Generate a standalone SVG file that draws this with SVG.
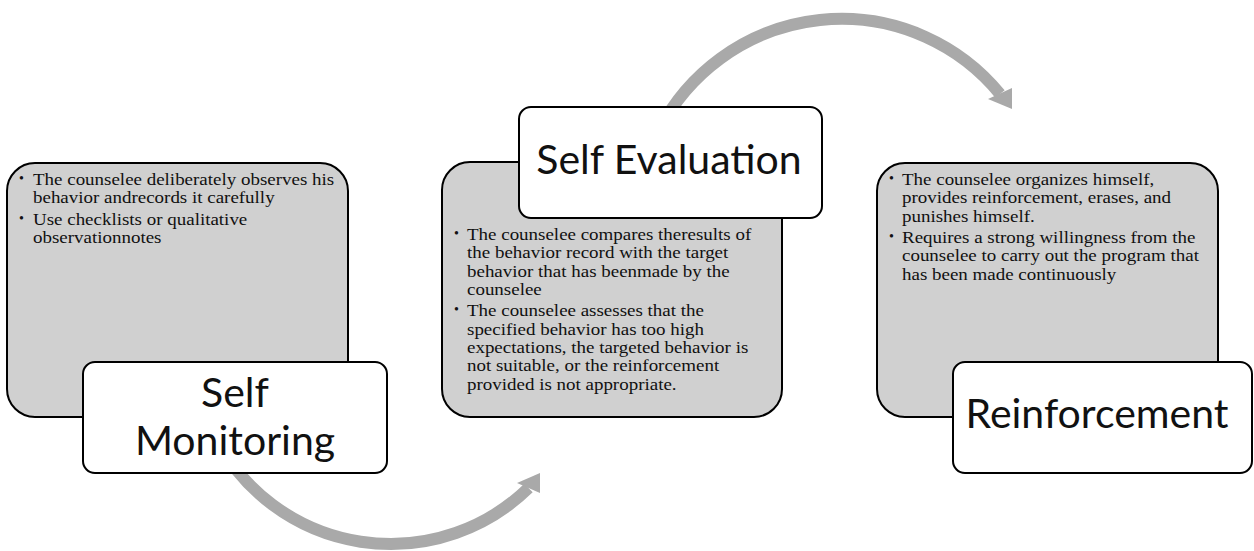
<svg xmlns="http://www.w3.org/2000/svg" width="1254" height="551" viewBox="0 0 1254 551">
<style>
.card{fill:#D0D0D0;stroke:#000;stroke-width:2}
.title{fill:#fff;stroke:#000;stroke-width:2}
.t{font-family:Lato,"Liberation Sans",sans-serif;font-size:41px;fill:#111;text-anchor:middle}
.b{font-family:"Liberation Serif","Times New Roman",serif;font-size:16.5px;fill:#111}
.d{font-family:"Liberation Serif","Times New Roman",serif;font-size:14px;fill:#111}
.arc{fill:none;stroke:#A9A9A9;stroke-width:12}
.head{fill:#A9A9A9}
</style>
<rect width="1254" height="551" fill="#fff"/>
<g id="connectors">
<path class="arc" d="M216.7,440 A197.5,197.5 0 0 0 528.5,488"/>
<polygon class="head" points="540,473 517,483 540,493"/>
<path class="arc" d="M659.2,130 A205,205 0 0 1 1000,94"/>
<polygon class="head" points="1012,109 988,99 1012,88"/>
</g>
<g id="self-monitoring">
<rect class="card" x="7" y="163" width="341" height="254" rx="28"/>
<text class="d" x="19" y="183">•</text>
<text class="b" transform="translate(33,0) scale(1.15,1)"><tspan x="0" y="185">The counselee deliberately observes his</tspan><tspan x="0" y="203.3">behavior andrecords it carefully</tspan></text>
<text class="d" x="19" y="222.8">•</text>
<text class="b" transform="translate(33,0) scale(1.15,1)"><tspan x="0" y="224.8">Use checklists or qualitative</tspan><tspan x="0" y="243.1">observationnotes</tspan></text>
<rect class="title" x="83" y="362" width="304" height="111" rx="12"/>
<text class="t"><tspan x="235" y="407">Self</tspan><tspan x="235" y="455">Monitoring</tspan></text>
</g>
<g id="self-evaluation">
<rect class="card" x="442" y="162" width="340" height="255" rx="28"/>
<rect class="title" x="519" y="107" width="303" height="111" rx="12"/>
<text class="t" x="669" y="174">Self Evaluation</text>
<text class="d" x="454" y="238">•</text>
<text class="b" transform="translate(467,0) scale(1.15,1)"><tspan x="0" y="240">The counselee compares theresults of</tspan><tspan x="0" y="258.3">the behavior record with the target</tspan><tspan x="0" y="276.6">behavior that has beenmade by the</tspan><tspan x="0" y="294.9">counselee</tspan></text>
<text class="d" x="454" y="314.4">•</text>
<text class="b" transform="translate(467,0) scale(1.15,1)"><tspan x="0" y="316.4">The counselee assesses that the</tspan><tspan x="0" y="334.7">specified behavior has too high</tspan><tspan x="0" y="353">expectations, the targeted behavior is</tspan><tspan x="0" y="371.3">not suitable, or the reinforcement</tspan><tspan x="0" y="389.6">provided is not appropriate.</tspan></text>
</g>
<g id="reinforcement">
<rect class="card" x="877" y="163" width="341" height="254" rx="28"/>
<text class="d" x="889" y="183">•</text>
<text class="b" transform="translate(902,0) scale(1.15,1)"><tspan x="0" y="185">The counselee organizes himself,</tspan><tspan x="0" y="203.3">provides reinforcement, erases, and</tspan><tspan x="0" y="221.6">punishes himself.</tspan></text>
<text class="d" x="889" y="241.1">•</text>
<text class="b" transform="translate(902,0) scale(1.15,1)"><tspan x="0" y="243.1">Requires a strong willingness from the</tspan><tspan x="0" y="261.4">counselee to carry out the program that</tspan><tspan x="0" y="279.7">has been made continuously</tspan></text>
<rect class="title" x="953" y="362" width="299" height="111" rx="12"/>
<text class="t" x="1097" y="428">Reinforcement</text>
</g>
</svg>
